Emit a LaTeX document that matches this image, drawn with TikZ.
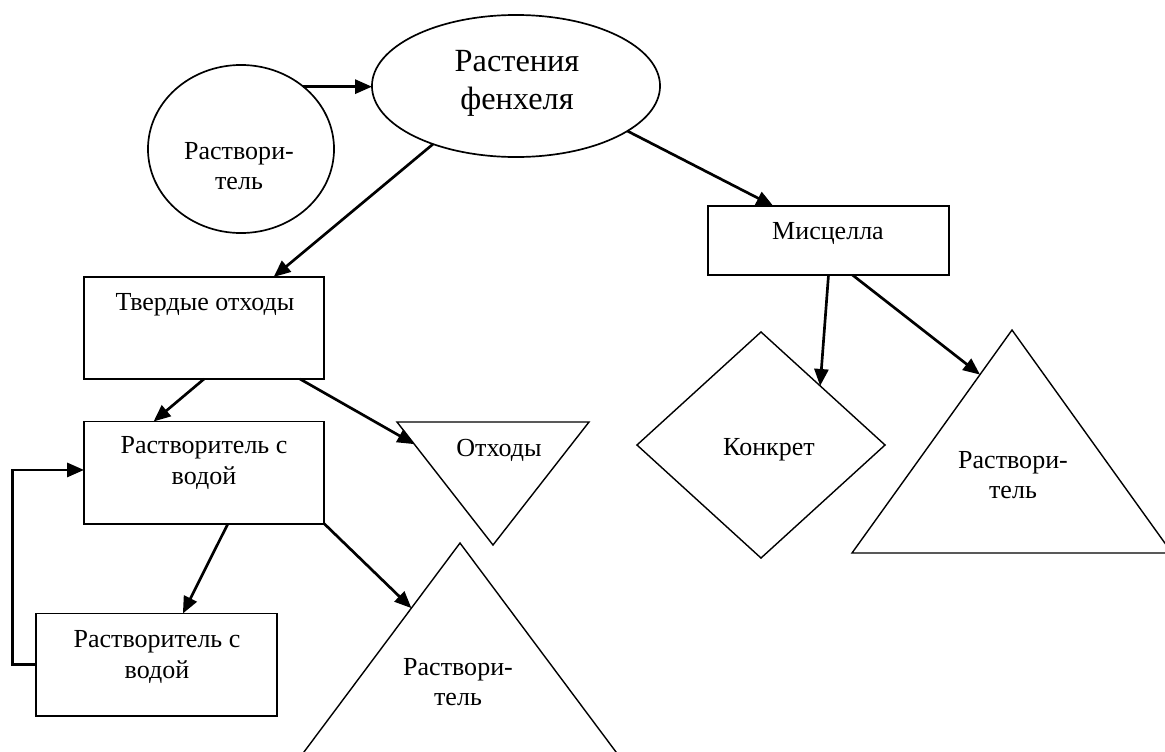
\documentclass[tikz,border=0pt]{standalone}
\usepackage{fontspec}
\setmainfont{Liberation Serif}
\usetikzlibrary{shapes.geometric,arrows.meta,calc}
\tikzset{
  box/.style={draw,line width=1.4pt,rectangle,minimum width=6cm,minimum height=2.55cm,outer sep=0pt,inner sep=0pt},
  oval/.style={draw,line width=1.2pt,ellipse,outer sep=0pt,inner sep=0pt},
  shp/.style={draw,line width=1pt,line join=miter},
  txt/.style={font=\fontsize{18.5}{21.5}\selectfont,align=center,inner sep=0pt},
  arr/.style={line width=1.9pt,-{Triangle[length=12pt,width=10pt]}},
}
\begin{document}
\begin{tikzpicture}[x=0.025cm,y=-0.025cm]
\useasboundingbox (0,0) rectangle (1165,751);
\node[oval,minimum width=4.65cm,minimum height=4.2cm] (circ) at (241,149) {};
\node[txt] (circT) at (239,166) {Раствори-\\тель};
\node[oval,minimum width=7.2cm,minimum height=3.55cm] (ell) at (516,86) {};
\node[txt,font=\fontsize{23}{27}\selectfont] (ellT) at (517,83) {Растения\\фенхеля};
\node[box,minimum height=1.725cm] (mis) at (828.5,240.5) {};
\node[txt] (misT) at (828,233) {Мисцелла};
\node[box] (tv) at (204,328) {};
\node[txt] (tvT) at (205,305) {Твердые отходы};
\node[box] (rsv) at (204,472.5) {};
\node[txt] (rsvT) at (204,463) {Растворитель с\\водой};
\node[box] (low) at (156.5,664.5) {};
\node[txt] (lowT) at (157,657) {Растворитель с\\водой};
\node[shp,diamond,minimum width=6.2cm,minimum height=5.65cm,inner sep=0pt,outer sep=0pt] (dia) at (761,445) {};
\node[txt] (diaT) at (769,450) {Конкрет};
\coordinate (otL) at (397,422);
\coordinate (otR) at (589,422);
\coordinate (otB) at (493,545);
\draw[shp] (otL) -- (otR) -- (otB) -- cycle;
\node[txt] (otT) at (499,450) {Отходы};
\coordinate (bgA) at (460,543);
\coordinate (bgL) at (298,760);
\coordinate (bgR) at (622,760);
\draw[shp] (bgA) -- (bgL) -- (bgR) -- cycle;
\node[txt] (bgT) at (458,682) {Раствори-\\тель};
\coordinate (rtA) at (1012,330);
\coordinate (rtL) at (852,553);
\coordinate (rtR) at (1172,553);
\draw[shp] (rtA) -- (rtL) -- (rtR) -- cycle;
\node[txt] (rtT) at (1013,475) {Раствори-\\тель};
\draw[arr] (circ.45) -- (circ.45 -| ell.west);
\draw[arr] (ell.215) -- ($(tv.north west)!0.79!(tv.north east)$);
\draw[arr] (ell.-22) -- ($(mis.north west)!0.27!(mis.north east)$);
\draw[arr] (mis.south) -- (dia.45);
\draw[arr] ($(mis.south west)!0.6!(mis.south east)$) -- ($(rtA)!0.2!(rtL)$);
\draw[arr] (tv.south) -- ($(rsv.north west)!0.29!(rsv.north east)$);
\draw[arr] ($(tv.south west)!0.9!(tv.south east)$) -- ($(otL)!0.18!(otB)$);
\draw[arr] ($(rsv.south west)!0.6!(rsv.south east)$) -- ($(low.north west)!0.61!(low.north east)$);
\draw[arr] (rsv.south east) -- ($(bgA)!0.3!(bgL)$);
\draw[arr] (low.west) -- ++(-24,0) |- ($(rsv.north west)!0.475!(rsv.south west)$);
\end{tikzpicture}
\end{document}
